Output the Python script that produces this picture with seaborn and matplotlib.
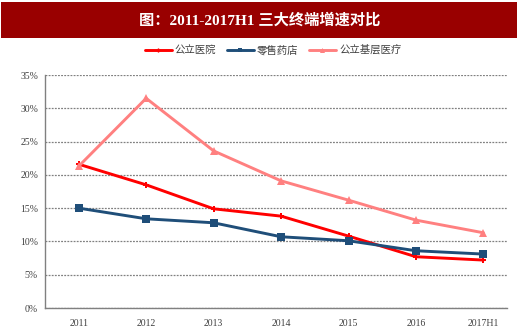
import matplotlib
matplotlib.use("Agg")
import matplotlib.pyplot as plt
from matplotlib.patches import Rectangle
from matplotlib.ticker import FixedLocator, FuncFormatter
import numpy as np
import pandas as pd
import seaborn as sns

years = ["2011", "2012", "2013", "2014", "2015", "2016", "2017H1"]
public_hospital = [21.6, 18.5, 14.9, 13.8, 10.8, 7.7, 7.2]
retail_pharmacy = [15.0, 13.4, 12.8, 10.7, 10.1, 8.6, 8.1]
primary_care = [21.3, 31.5, 23.6, 19.1, 16.2, 13.2, 11.3]
series_names = ["公立医院", "零售药店", "公立基层医疗"]
title_text = "图：2011-2017H1 三大终端增速对比"

sns.set_theme(style="white")
plt.rcParams["font.family"] = ["Noto Sans CJK SC", "DejaVu Sans"]

rows = []
for name, vals in zip(series_names, [public_hospital, retail_pharmacy, primary_care]):
    for i, v in enumerate(vals):
        rows.append({"pos": i, "value": v, "series": name})
df = pd.DataFrame(rows)

palette = {"公立医院": "#FF0000", "零售药店": "#1F4E79", "公立基层医疗": "#FF8080"}
markers = {"公立医院": "P", "零售药店": "s", "公立基层医疗": "^"}
msizes = {"公立医院": 5, "零售药店": 6, "公立基层医疗": 6}

fig = plt.figure(figsize=(5.2, 3.29), dpi=100)
ax = fig.add_axes([45 / 520, 21 / 329, (507 - 45) / 520, (308 - 75) / 329])

for name in series_names:
    sub = df[df["series"] == name]
    sns.lineplot(data=sub, x="pos", y="value", ax=ax, color=palette[name],
                 marker=markers[name], markersize=msizes[name],
                 markeredgewidth=0, linewidth=2.1, label=name, zorder=3)

ax.set_ylim(0, 35)
ax.set_xlim(-0.5, 6.35)
ax.set_yticks(np.arange(0, 36, 5))
ax.yaxis.set_major_formatter(FuncFormatter(lambda v, p: f"{int(v)}%"))
ax.set_xticks(range(len(years)))
ax.set_xticklabels(years)
ax.xaxis.set_minor_locator(FixedLocator(np.arange(-0.5, 6.0, 1.0)))
ax.tick_params(axis="x", which="major", length=0, pad=8)
ax.tick_params(axis="x", which="minor", length=3, color="#808080", direction="out")
ax.tick_params(axis="y", which="major", length=3, color="#808080", direction="out", pad=2)
for lab in ax.get_xticklabels() + ax.get_yticklabels():
    lab.set_fontfamily("Liberation Serif")
    lab.set_fontsize(7)
    lab.set_color("#404040")
ax.set_xlabel("")
ax.set_ylabel("")

ax.yaxis.grid(True, linestyle=(0, (1.5, 1)), color="#808080", linewidth=0.9)
ax.set_axisbelow(True)
for s in ["top", "right"]:
    ax.spines[s].set_visible(False)
for s in ["left", "bottom"]:
    ax.spines[s].set_color("#808080")
    ax.spines[s].set_linewidth(1.0)

ax.legend_.remove()
handles, labels = ax.get_legend_handles_labels()
leg = fig.legend(handles, labels, loc="center", bbox_to_anchor=(0.525, 1 - 50 / 329), ncol=3,
                 frameon=False, fontsize=7.5, handlelength=2.6, columnspacing=1.0,
                 handletextpad=0.3, markerscale=0.6)
for t in leg.get_texts():
    t.set_color("#404040")

fig.patches.append(Rectangle((1 / 520, 1 - 38 / 329), 516 / 520, 36 / 329,
                             transform=fig.transFigure, facecolor="#990000",
                             edgecolor="none", zorder=0))
fig.text(0.5, 1 - 20 / 329, title_text, ha="center", va="center", color="white",
         fontsize=11, fontweight="bold",
         family=["Liberation Serif", "Noto Sans CJK SC"])

fig.savefig("out.png", dpi=100)
